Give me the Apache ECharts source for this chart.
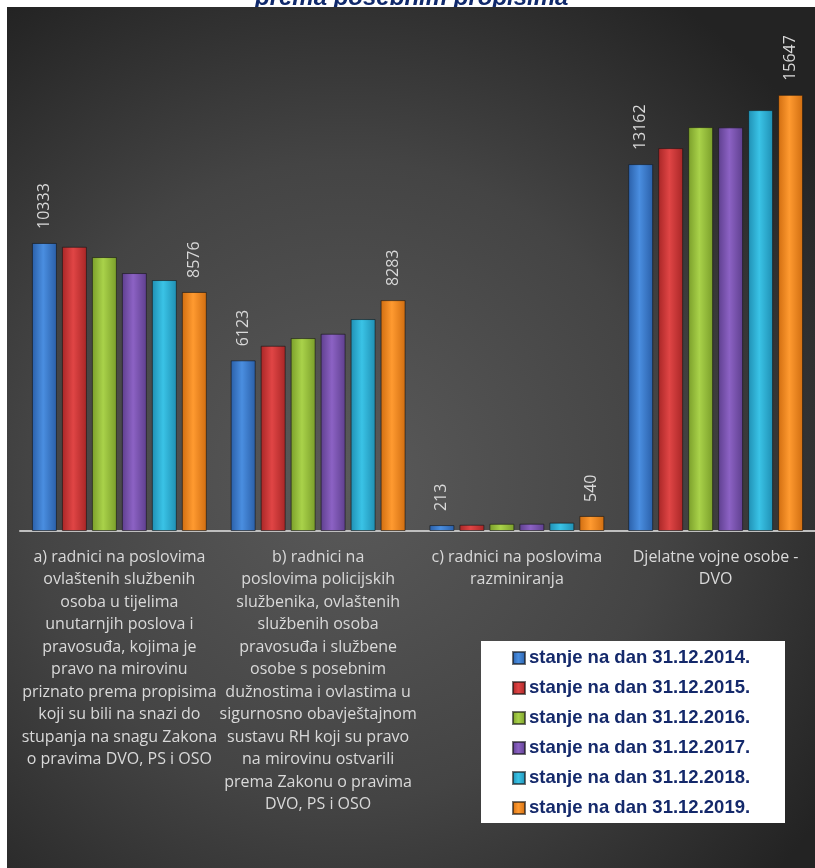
<!DOCTYPE html>
<html>
<head>
<meta charset="utf-8">
<script src="https://cdn.jsdelivr.net/npm/echarts@6/dist/echarts.min.js"></script>
<style>
html,body{margin:0;padding:0;background:#fff;}
#c{width:815px;height:868px;}
</style>
</head>
<body>
<div id="c"></div>
<script>
const titleText = 'prema posebnim propisima';
const categories = [
  'a) radnici na poslovima\novlaštenih službenih\nosoba u tijelima\nunutarnjih poslova i\npravosuđa, kojima je\npravo na mirovinu\npriznato prema propisima\nkoji su bili na snazi do\nstupanja na snagu Zakona\no pravima DVO, PS i OSO',
  'b) radnici na\nposlovima policijskih\nslužbenika, ovlaštenih\nslužbenih osoba\npravosuđa i službene\nosobe s posebnim\ndužnostima i ovlastima u\nsigurnosno obavještajnom\nsustavu RH koji su pravo\nna mirovinu ostvarili\nprema Zakonu o pravima\nDVO, PS i OSO',
  'c) radnici na poslovima\nrazminiranja',
  'Djelatne vojne osobe -\nDVO'
];
const seriesNames = [
  'stanje na dan 31.12.2014.',
  'stanje na dan 31.12.2015.',
  'stanje na dan 31.12.2016.',
  'stanje na dan 31.12.2017.',
  'stanje na dan 31.12.2018.',
  'stanje na dan 31.12.2019.'
];
const v2014 = [10333, 6123, 213, 13162];
const v2015 = [10197, 6646, 225, 13737];
const v2016 = [9828, 6922, 260, 14490];
const v2017 = [9254, 7077, 262, 14480];
const v2018 = [9003, 7604, 300, 15100];
const v2019 = [8576, 8283, 540, 15647];
const allValues = [v2014, v2015, v2016, v2017, v2018, v2019];
const labelledSeries = [0, 5];

const palette = [
  ['#2a5fa8', '#4a8ee0'],
  ['#a82626', '#e04545'],
  ['#7a9e2a', '#a9d24a'],
  ['#5e3f8e', '#8c62c4'],
  ['#1f8fb3', '#3ac3e6'],
  ['#d06d10', '#ff9a30']
];

function grad(c) {
  return new echarts.graphic.LinearGradient(0, 0, 1, 0, [
    {offset: 0, color: c[0]},
    {offset: 0.45, color: c[1]},
    {offset: 1, color: c[0]}
  ]);
}

const chart = echarts.init(document.getElementById('c'), null, {renderer: 'canvas'});

const series = allValues.map((vals, i) => ({
  name: seriesNames[i],
  type: 'bar',
  data: vals,
  z: 5,
  barGap: '20%',
  barCategoryGap: '12%',
  itemStyle: {color: grad(palette[i]), borderColor: 'rgba(20,20,20,0.6)', borderWidth: 1},
  label: {
    show: labelledSeries.indexOf(i) >= 0,
    position: 'top',
    distance: 14,
    rotate: 90,
    align: 'left',
    verticalAlign: 'middle',
    color: '#d9d9d9',
    fontFamily: 'Open Sans',
    fontSize: 16
  }
}));

chart.setOption({
  backgroundColor: '#ffffff',
  animation: false,
  title: {
    text: titleText,
    left: 255,
    top: -14,
    padding: 0,
    z: 0,
    textStyle: {fontFamily: 'Liberation Sans', fontStyle: 'italic', fontWeight: 'bold', fontSize: 24, color: '#10296b'}
  },
  graphic: [
    {
      type: 'rect', z: 1, silent: true,
      shape: {x: 7, y: 7, width: 808, height: 861},
      style: {fill: new echarts.graphic.RadialGradient(0.42, 0.55, 0.72, [
        {offset: 0, color: '#5a5a5a'},
        {offset: 0.55, color: '#444444'},
        {offset: 1, color: '#232323'}
      ])}
    },
    {
      type: 'rect', z: 6, silent: true,
      shape: {x: 481, y: 641, width: 304, height: 182},
      style: {fill: '#ffffff'}
    }
  ],
  grid: {left: 20, width: 797, top: 85, bottom: 337},
  xAxis: {
    type: 'category',
    data: categories,
    z: 3,
    axisLine: {lineStyle: {color: '#bfbfbf', width: 2}},
    axisTick: {show: false},
    axisLabel: {
      interval: 0,
      color: '#d9d9d9',
      fontFamily: 'Open Sans',
      fontSize: 16,
      lineHeight: 22.5,
      margin: 15,
      align: 'center'
    }
  },
  yAxis: {type: 'value', min: 0, max: 16000, show: false, splitLine: {show: false}},
  legend: {
    orient: 'vertical',
    left: 512,
    top: 648,
    padding: 0,
    z: 7,
    itemWidth: 12,
    itemHeight: 12,
    itemGap: 10,
    icon: 'rect',
    textStyle: {fontFamily: 'Liberation Sans', fontWeight: 'bold', fontSize: 18.5, lineHeight: 20, color: '#14296b', padding: [0, 0, 0, -1]},
    data: seriesNames
  },
  series: series
});
</script>
</body>
</html>
